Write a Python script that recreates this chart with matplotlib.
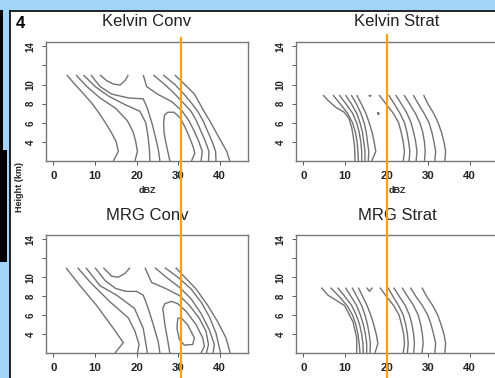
import matplotlib
matplotlib.use('Agg')
import matplotlib.pyplot as plt
from matplotlib.lines import Line2D
from matplotlib.patches import Rectangle
import matplotlib.transforms as mtransforms

plt.rcParams['font.family'] = ['Liberation Sans', 'DejaVu Sans']

# ---------------- data ----------------
PANEL_TITLES = ['Kelvin Conv', 'Kelvin Strat', 'MRG Conv', 'MRG Strat']
X_TICKS = [0, 10, 20, 30, 40]
Y_TICKS = [4, 6, 8, 10, 12, 14]
Y_TICK_LABELS = ['4', '6', '8', '10', '', '14']
X_LABEL = 'dBZ'
Y_LABEL = 'Height (km)'
PANEL_NUMBER = '4'
CONV_REF_DBZ = 30.8     # orange reference line, convective panels
STRAT_REF_DBZ = 20.2    # orange reference line, stratiform panels

H_S = [8.9, 8, 7, 6, 5, 4, 3, 2]          # common heights for strat contours
H_R = [11, 10, 9, 8, 7.2, 6.2, 5.1, 4, 3, 2]

# each contour: (heights km, dBZ)
kelvin_conv = {
    'A': ([11, 10, 9, 8, 7, 6, 5, 4, 3, 2], [3.2, 5.2, 7.3, 9.3, 11.0, 12.5, 13.9, 15.1, 15.6, 14.4]),
    'B': ([11, 9.8, 8.6, 7.5, 6.2, 5, 4, 3, 2], [5.4, 8.0, 11.2, 15.0, 17.8, 19.2, 19.8, 20.2, 19.6]),
    'C': ([11, 9.8, 8.8, 7.9, 7.2, 6, 5, 4, 3, 2], [7.2, 10.0, 13.2, 17.2, 20.8, 22.2, 22.6, 22.9, 23.1, 23.2]),
    'D': ([11, 9.8, 9.0, 8.6, 8.5, 7.5, 5.8, 4, 3, 2], [9.0, 11.2, 14.0, 18.0, 21.6, 22.6, 23.8, 24.8, 25.3, 25.6]),
    'cup': ([11, 10.4, 10.05, 9.95, 10.4, 11], [11.2, 12.8, 14.4, 16.0, 17.2, 18.0]),
    'core': ([2, 3, 4, 5, 6, 6.8, 7.1, 7.1, 6.5, 5.5, 4.5, 3.5, 2.8, 2],
             [28.0, 27.5, 27.0, 26.6, 26.5, 26.7, 27.5, 29.0, 30.5, 31.7, 32.7, 33.6, 34.0, 33.2]),
    'R1': ([11, 9.8, 9, 8.2, 7.2, 6.2, 5.1, 4, 3, 2], [21.6, 22.4, 25.0, 28.5, 31.0, 32.6, 33.9, 35.0, 35.8, 35.5]),
    'R2': (H_R, [24.0, 26.8, 29.2, 31.4, 33.1, 34.4, 35.5, 36.6, 37.4, 37.3]),
    'R3': (H_R, [26.4, 29.2, 31.4, 33.3, 34.7, 36.0, 37.1, 38.2, 39.0, 39.1]),
    'R4': (H_R, [29.2, 31.6, 33.9, 35.2, 36.2, 37.6, 39.0, 40.4, 41.7, 42.4]),
}

mrg_conv = {
    'A': ([11, 9.1, 7, 4.6, 3.1, 2], [3.0, 6.4, 10.4, 14.4, 16.8, 14.8]),
    'B': ([11, 9.3, 7.4, 5.7, 4.3, 2.9, 2], [5.8, 9.2, 13.6, 18.0, 19.6, 20.6, 20.2]),
    'C': ([11, 9.1, 8.1, 6.7, 4.6, 2], [7.8, 11.2, 15.2, 19.5, 21.6, 22.6]),
    'D': ([11, 9.6, 8.8, 8.5, 8.5, 8.1, 6.7, 5, 3.2, 2], [10.0, 12.5, 15.0, 17.5, 20.0, 21.6, 22.8, 24.0, 25.2, 25.6]),
    'cup': ([11, 10.1, 10.0, 10.4, 11], [12.0, 14.0, 15.6, 17.2, 18.4]),
    'core': ([2, 3.3, 5, 6.7, 7.2, 7.45, 7.2, 6.35, 5, 3.6, 2.7, 2],
             [28.0, 27.5, 26.8, 26.3, 26.8, 28.4, 29.9, 32.0, 34.3, 35.9, 36.3, 35.5]),
    'max': ([5.65, 5.73, 4.96, 3.59, 2.9, 2.83, 3.41, 4.62, 5.65],
            [29.9, 30.7, 32.3, 33.9, 33.5, 31.5, 30.3, 29.7, 29.9]),
    'R1': ([11, 9.45, 8.76, 8.06, 7.03, 5.65, 4.28, 2.9, 2], [22.0, 23.6, 27.2, 30.3, 32.7, 35.1, 36.7, 37.3, 36.8]),
    'R2': ([11, 9.97, 8.93, 7.72, 6.17, 4.44, 2.9, 2], [24.4, 27.2, 30.3, 33.1, 35.5, 37.5, 38.7, 38.4]),
    'R3': ([11, 9.97, 8.76, 7.38, 5.83, 4.1, 2], [26.8, 30.0, 33.1, 35.5, 37.5, 39.1, 40.2]),
    'R4': ([11, 8.76, 7.03, 5.3, 3.6, 2], [29.4, 34.3, 37.1, 39.5, 41.5, 42.5]),
}

kelvin_strat = {
    'L1': ([8.9, 8.3, 7.6, 7.1, 6.5, 5.5, 4.5, 3.5, 2], [4.7, 6.0, 7.8, 9.8, 10.9, 11.6, 12.0, 12.3, 12.4]),
    'L2': (H_S, [7.1, 8.8, 10.6, 11.8, 12.5, 12.9, 13.1, 13.2]),
    'L3': (H_S, [8.6, 10.2, 11.8, 12.8, 13.4, 13.8, 14.0, 14.0]),
    'L4': (H_S, [10.1, 11.5, 12.8, 13.6, 14.2, 14.5, 14.8, 14.8]),
    'L5': (H_S, [11.5, 12.7, 13.8, 14.6, 15.1, 15.4, 15.7, 15.6]),
    'L6': (H_S, [12.8, 13.9, 15.0, 15.8, 16.5, 17.0, 17.4, 16.4]),
    'arc': ([8.9, 8.75, 8.9], [15.7, 16.0, 16.3]),
    'dot': ([7.1, 6.95, 6.85, 7.0, 7.1], [17.9, 18.2, 18.0, 17.85, 17.9]),
    'S1': (H_S, [18.2, 19.8, 21.6, 22.9, 23.5, 24.0, 24.3, 24.0]),
    'S2': (H_S, [20.5, 21.8, 23.2, 24.3, 24.9, 25.3, 25.6, 25.4]),
    'S3': (H_S, [22.2, 23.5, 24.9, 25.9, 26.5, 27.0, 27.3, 27.1]),
    'S4': (H_S, [24.2, 25.5, 26.9, 28.0, 28.7, 29.1, 29.3, 29.1]),
    'S5': (H_S, [26.4, 27.6, 29.0, 30.2, 30.9, 31.4, 31.8, 31.6]),
    'S6': (H_S, [28.9, 29.9, 31.3, 32.4, 33.2, 33.8, 34.2, 34.0]),
}

mrg_strat = {
    'L1': ([8.9, 8.1, 7.0, 5.3, 3.6, 2], [4.3, 5.9, 9.9, 11.9, 12.8, 12.8]),
    'L2': (H_S, [6.5, 8.5, 10.5, 11.8, 12.6, 13.1, 13.4, 13.6]),
    'L3': (H_S, [8.2, 9.9, 11.6, 12.7, 13.5, 14.0, 14.3, 14.4]),
    'L4': (H_S, [10.1, 11.4, 12.8, 13.7, 14.4, 14.9, 15.2, 15.2]),
    'L5': (H_S, [11.7, 12.8, 14.0, 14.8, 15.4, 15.8, 16.1, 16.0]),
    'L6': (H_S, [13.2, 14.2, 15.3, 16.2, 16.9, 17.5, 17.9, 17.2]),
    'v': ([8.9, 8.5, 8.9], [15.2, 15.9, 16.6]),
    'S1': (H_S, [18.4, 19.9, 21.7, 23.0, 23.6, 24.1, 24.3, 24.0]),
    'S2': (H_S, [20.3, 21.5, 22.9, 24.0, 24.6, 25.0, 25.2, 25.0]),
    'S3': (H_S, [21.7, 23.0, 24.5, 25.5, 26.1, 26.5, 26.7, 26.5]),
    'S4': (H_S, [23.7, 25.0, 26.5, 27.6, 28.2, 28.6, 28.8, 28.5]),
    'S5': (H_S, [25.7, 27.0, 28.6, 29.9, 30.7, 31.3, 31.8, 31.6]),
    'S6': (H_S, [28.5, 29.6, 31.1, 32.3, 33.1, 33.8, 34.2, 34.0]),
}

# ---------------- layout ----------------
W, H = 495, 378
fig = plt.figure(figsize=(W / 100, H / 100), dpi=100)
fig.patch.set_facecolor('white')


def fx(x):
    return x / W


def fy(y):
    return 1 - y / H


BLUE = '#a0d4f8'
fig.add_artist(Rectangle((0, fy(10)), 1, 10 / H, facecolor=BLUE, edgecolor='none',
                         transform=fig.transFigure, zorder=0))
fig.add_artist(Rectangle((0, 0), fx(10), 1, facecolor=BLUE, edgecolor='none',
                         transform=fig.transFigure, zorder=0))
fig.add_artist(Rectangle((0, fy(150)), fx(3), (150 - 10) / H, facecolor='black', edgecolor='none',
                         transform=fig.transFigure, zorder=0))
fig.add_artist(Rectangle((0, fy(262)), fx(7), (262 - 150) / H, facecolor='black', edgecolor='none',
                         transform=fig.transFigure, zorder=0))
fig.add_artist(Line2D([fx(9.5), 1], [fy(10.5), fy(10.5)], color='#111111', lw=1.3,
                      transform=fig.transFigure))
fig.add_artist(Line2D([fx(9.5), fx(9.5)], [0, fy(10.5)], color='#111111', lw=1.3,
                      transform=fig.transFigure))

boxes = [(46, 42, 248, 161), (296, 42, 498, 161), (46, 235, 248, 353), (296, 235, 498, 353)]
datasets = [kelvin_conv, kelvin_strat, mrg_conv, mrg_strat]
axes = []
for i, ((l, t, r, b), title, data) in enumerate(zip(boxes, PANEL_TITLES, datasets)):
    ax = fig.add_axes([fx(l), fy(b), (r - l) / W, (b - t) / H])
    ax.set_xlim(-1.8, 46.8)
    ax.set_ylim(2.0, 14.45)
    for name, (hs, xs) in data.items():
        ax.plot(xs, hs, color='#727272', lw=1.0, solid_joinstyle='round', solid_capstyle='butt')
    ax.set_xticks(X_TICKS)
    ax.set_xticklabels([str(v) for v in X_TICKS], fontweight='bold', fontsize=8.2)
    ax.set_yticks(Y_TICKS)
    ax.set_yticklabels(Y_TICK_LABELS, rotation=90, va='center', fontweight='bold', fontsize=7)
    ax.tick_params(direction='out', length=3, width=0.7, colors='#555555', labelcolor='#222222')
    ax.tick_params(axis='x', pad=4.5)
    ax.tick_params(axis='y', pad=4.5)
    for sp in ax.spines.values():
        sp.set_color('#777777')
        sp.set_linewidth(1.0)
    if i < 2:
        ax.set_xlabel(X_LABEL, fontsize=6.5, fontweight='bold', labelpad=3, color='#222222')
    ax.text(0.5, 1 + 20 / (b - t), title, transform=ax.transAxes, ha='center', va='center',
            fontsize=12, color='#222222')
    axes.append(ax)

fig.text(fx(19), fy(187), Y_LABEL, rotation=90, ha='center', va='center', fontsize=6.5,
         fontweight='bold', color='#222222')
fig.text(fx(20), fy(23), PANEL_NUMBER, ha='center', va='center', fontsize=12, fontweight='bold')

for ax, ref, ytop in [(axes[0], CONV_REF_DBZ, 38), (axes[1], STRAT_REF_DBZ, 35)]:
    tr = mtransforms.blended_transform_factory(ax.transData, fig.transFigure)
    fig.add_artist(Line2D([ref, ref], [0, fy(ytop)], transform=tr, color='#ffa010', lw=1.6, zorder=10))

fig.savefig('out.png', dpi=100)
